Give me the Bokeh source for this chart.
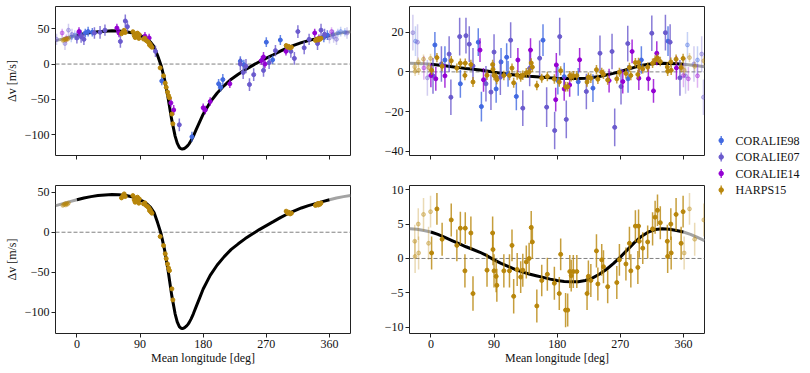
import numpy as np
from bokeh.plotting import figure
from bokeh.models import ColumnDataSource, FixedTicker, Span, Range1d, CustomLabelingPolicy
from bokeh.layouts import row, column
from bokeh.embed import file_html
from bokeh.resources import INLINE
from bokeh.core.properties import value

FONT = "Liberation Serif"

# ---------------- data ----------------
instruments = ["CORALIE98", "CORALIE07", "CORALIE14", "HARPS15"]
colors = ["#4169E1", "#6A5ACD", "#9400D3", "#B8860B"]
x_ticks = [0, 90, 180, 270, 360]
yticks_tl = [-100, -50, 0, 50]
yticks_tr = [-40, -20, 0, 20]
yticks_bl = [-100, -50, 0, 50]
yticks_br = [-10, -5, 0, 5, 10]

# Keplerian model, planet b
model_b_lon = [0, 10, 20, 30, 40, 50, 60, 70, 80, 85, 90, 95, 100, 105, 110, 115, 120, 125, 130,
               135, 140, 143, 146, 148, 150, 152, 154, 156, 158, 160, 163, 166, 170, 175, 180,
               190, 200, 210, 220, 230, 240, 250, 260, 270, 280, 290, 300, 310, 320, 330, 340, 350, 360]
model_b_dv = [40.5, 42.8, 44.5, 45.8, 46.6, 47.0, 46.8, 45.8, 44.0, 42.5, 40.5, 38.2, 35.3, 31.0,
              24.5, 12.0, -2.0, -22.0, -48.0, -78.0, -102.0, -112.0, -118.0, -119.8, -120.3, -120.0,
              -119.0, -117.5, -115.5, -113.0, -108.0, -102.0, -93.0, -82.0, -71.0, -54.0, -41.0,
              -30.5, -21.5, -14.5, -8.0, -2.2, 3.3, 8.3, 13.2, 18.2, 22.8, 26.8, 30.3, 33.2, 35.7, 38.2, 40.5]

# Keplerian model, planet c
model_c_lon = [0, 10, 20, 30, 40, 50, 60, 70, 80, 90, 100, 110, 120, 130, 140, 150, 160, 170, 180,
               190, 200, 210, 220, 230, 240, 250, 260, 270, 280, 290, 300, 310, 320, 330, 340, 350, 360]
model_c_dv = [3.85, 3.5, 3.05, 2.6, 2.15, 1.7, 1.3, 0.9, 0.4, -0.2, -0.7, -1.15, -1.6, -1.95, -2.25,
              -2.5, -2.75, -3.0, -3.2, -3.33, -3.4, -3.38, -3.2, -2.85, -2.3, -1.6, -0.75, 0.2, 1.25,
              2.3, 3.2, 3.85, 4.2, 4.32, 4.25, 4.05, 3.85]

# CORALIE98 vs mean longitude of b / of c
c98_lon_b = [5, 12, 16, 22, 121, 164, 202, 205, 208, 233, 238, 270, 279, 290, 300, 352, 357]
c98_dv_b = [42, 44, 46, 45, -24, -103, -28, -33, -22, 4, -1, 31, 6, 34, 22, 38, 41]
c98_err_b = [7, 6, 7, 6, 6, 7, 7, 6, 8, 7, 7, 7, 6, 7, 6, 7, 7]
c98_lon_c = [5.7, 20, 42, 67.5, 72, 93, 100, 108, 110, 121.8, 159.8, 181, 190, 210, 231, 281, 300, 338]
c98_dv_c = [13.6, 6, -6, 15, -17.5, -8.6, 5, 7.4, -1, -12.4, 16, -4.4, -2.4, -5, -8.2, -3.5, 6, 15.5]
c98_err_c = [6.5, 7, 7, 7, 7.5, 7, 7, 7, 6.5, 7, 8, 7, 7, 7, 7, 7, 7, 7.5]

# CORALIE07
c07_lon_b = [0, 6, 10, 25, 33, 40, 62, 69, 72, 112, 146, 233, 237, 241, 246, 252, 266, 274, 283,
             305, 310, 315, 324, 331, 343, 348, 353]
c07_dv_b = [37, 39, 35, 44, 45, 48, 32, 61, 53, 18, -86, 0, -12, -3, -29, -15, -9, 2, 19, 18, 8,
            46, 23, 35, 29, 48, 42]
c07_err_b = [8, 9, 8, 8, 9, 8, 9, 9, 8, 8, 9, 9, 9, 10, 9, 9, 9, 9, 8, 9, 9, 9, 9, 8, 9, 9, 8]
c07_lon_c = [3, 15, 26, 28.5, 41, 50, 54.7, 60, 78.5, 85.6, 90, 99, 113.7, 131, 140.8, 155, 165,
             176.4, 183.6, 193, 221.6, 241, 258.2, 262, 271, 280.6, 314.9, 334.3, 341, 355]
c07_dv_c = [-2, 4, 9, -12.8, 17.8, 18.3, 14, 3, -6, -10.2, 10, -2.7, 16, -18.3, 1.8, 6.9, -17.8,
            -29.6, 17.8, -24, -9.9, 9.4, 10.3, -28, -7.4, 14.3, 19.5, 19.8, 15, -3]
c07_err_c = [9, 9, 9, 9, 9.5, 9, 9, 9, 9, 9, 9, 9, 9, 9, 9, 9, 10, 9.5, 9.5, 9.5, 9, 9, 9, 9.5,
             9, 9, 9, 9, 9, 9]

# CORALIE14
c14_lon_b = [3, 57, 60, 97, 103, 134, 138, 180, 183, 190, 218, 263, 266, 268, 298, 339, 345]
c14_dv_b = [46, 51, 44, 39.5, 37, -55, -65, -62, -65, -53, -28, 5, 10, 0, 18, 44, 36]
c14_err_b = [6, 6, 6, 6, 6, 6, 7, 6, 6, 6, 6, 6, 7, 6, 6, 6, 6]
c14_lon_c = [0, 7, 20, 70, 75, 124, 142, 177.9, 178.8, 190, 197.8, 212, 254, 273.5, 286.8, 296.4,
             310, 317.3, 322, 350]
c14_dv_c = [-1.8, -3.5, -2, 11, -4, 6, 11, -14, 3.5, -8.6, -6.6, 6.1, -4.4, -4.9, 10.3, -3.2,
            -3.5, -9.6, 9.4, 2]
c14_err_c = [6, 6, 6, 6, 6, 6, 6, 6, 6, 6, 6, 6, 6, 6, 6, 6, 6, 6, 6, 6]

# HARPS15
hb_lon = [63.6, 65.5, 67.4, 68.9, 79.8, 81.7, 83.0, 84.5, 85.5, 86.4, 87.4, 88.3, 89.0, 95.0, 96.9,
          98.8, 100.7, 102.6, 103.5, 104.5, 105.4, 106.9, 118.7, 123.5, 125.9, 127.3, 129.2, 130.6,
          132.0, 135.4, 136.8, 298.3, 300.2, 302.0, 304.0, 305.8, 340.0, 341.5, 343.0, 344.0,
          345.0, 346.5, 348.0]
hb_dv = [42.9, 45.5, 47.9, 44.6, 45.8, 40.4, 37.5, 42.9, 38.8, 43.8, 40.4, 36.3, 41.5, 35.4, 36.7,
         33.3, 32.0, 30.4, 27.0, 27.9, 25.4, 23.8, -5.4, -16.7, -27.0, -33.0, -39.6, -44.6, -48.0,
         -70.8, -84.6, 26.3, 23.8, 25.0, 22.9, 23.8, 33.5, 34.5, 35.5, 34.0, 36.0, 35.0, 36.5]
hb_err = [1.6, 1.5, 1.8, 1.4, 1.5, 1.7, 1.6, 1.4, 1.5, 1.6, 1.8, 1.5, 1.4, 1.6, 1.5, 1.7, 1.5, 1.6,
          1.4, 1.5, 1.6, 1.5, 1.8, 1.6, 1.5, 1.7, 1.6, 1.5, 1.4, 1.6, 1.7, 1.5, 1.6, 1.4, 1.5, 1.6,
          1.5, 1.6, 1.4, 1.7, 1.5, 1.6, 1.5]
hc_lon = [1, 8.6, 16, 29, 37, 42, 48.5, 49, 57, 60, 80, 88, 88.5, 90, 93, 94, 104, 112, 115.6, 118,
          123, 128, 131, 136, 140, 143, 144.6, 151, 158, 166, 176, 183, 185, 192, 195, 198, 200, 203,
          208, 222.6, 224.5, 228, 236, 238, 243.5, 246, 252, 265, 268.7, 278, 283, 285, 291.5, 295,
          296, 297, 302, 309, 316, 319.6, 323, 327, 337, 337.5, 342, 342.5, 349.5, 356.7, 359.5]
hc_dv = [0.8, 7.2, 2.8, 5.6, 1.9, 4.4, -1.8, 4.4, 3.7, -5.1, -1.7, 3.7, 1.3, -1.8, -2.6, -3.9, -1.8,
         -1.8, 1.9, -5.5, -1.6, -2.7, -1.7, -0.5, 0.0, 4.5, 2.4, -6.9, -3.2, -2.3, -3.6, -5.1, 0.6,
         -7.5, -7.5, -1.9, -2.5, -1.9, -1.9, -5.1, -2.6, -3.2, 1.1, -3.7, -0.2, -1.2, -4.1, -3.5,
         -0.2, -0.8, 2.2, -1.8, 4.7, -1.3, 4.7, 2.5, 1.5, 2.4, 4.3, 6.0, 7.0, 5.2, 2.5, 0.3, 5.0,
         0.8, 6.4, 2.2, 6.8]
hc_err = [2.4, 2.3, 2.4, 2.4, 2.3, 2.4, 2.4, 2.3, 2.4, 2.5, 2.4, 2.4, 2.3, 2.4, 2.3, 2.4, 2.4, 2.4,
          2.3, 2.5, 2.4, 2.3, 2.4, 2.4, 2.3, 2.4, 2.4, 2.4, 2.3, 2.4, 2.4, 2.4, 2.3, 2.5, 2.4, 2.4,
          2.3, 2.4, 2.4, 2.4, 2.3, 2.4, 2.4, 2.4, 2.3, 2.4, 2.4, 2.4, 2.3, 2.4, 2.4, 2.4, 2.3, 2.4,
          2.4, 2.4, 2.3, 2.4, 2.4, 2.4, 2.3, 2.4, 2.4, 2.4, 2.3, 2.4, 2.4, 2.4, 2.3]

WRAP = 30.0   # points within 30 deg of an edge are repeated (faded) on the other side

NO_LABELS = CustomLabelingPolicy(code="""
for (const i of Array.from(indices)) { indices.unset(i) }
return indices
""")


# ---------------- helpers ----------------
def make_fig(frame_h, yr, yticks, b_left, b_right, b_top, b_bottom, xlabels, ylabel):
    p = figure(frame_width=295, frame_height=frame_h,
               x_range=Range1d(-30.5, 390.0), y_range=Range1d(*yr),
               toolbar_location=None, output_backend="svg",
               min_border_left=b_left, min_border_right=b_right,
               min_border_top=b_top, min_border_bottom=b_bottom)
    p.xgrid.visible = False
    p.ygrid.visible = False
    p.outline_line_color = "#222222"
    p.outline_line_width = 1
    p.background_fill_color = "white"
    p.border_fill_color = "white"
    p.xaxis.ticker = FixedTicker(ticks=x_ticks)
    p.yaxis.ticker = FixedTicker(ticks=yticks)
    p.yaxis.major_label_overrides = {t: ("\u2212" + str(abs(t)) if t < 0 else str(t)) for t in yticks}
    for ax in p.axis:
        ax.axis_line_color = None
        ax.major_tick_out = 4
        ax.major_tick_in = 0
        ax.minor_tick_out = 0
        ax.minor_tick_in = 0
        ax.major_tick_line_color = "#222222"
        ax.major_label_text_font = FONT
        ax.major_label_text_font_size = "12px"
        ax.major_label_text_color = "#111111"
        ax.axis_label_text_font = FONT
        ax.axis_label_text_font_size = "12px"
        ax.axis_label_text_font_style = "normal"
        ax.axis_label_text_color = "#111111"
    p.yaxis.major_label_standoff = 2
    p.yaxis.axis_label_standoff = 3
    p.xaxis.major_label_standoff = 2
    p.xaxis.axis_label_standoff = 0
    if xlabels:
        p.xaxis.axis_label = "Mean longitude [deg]"
    else:
        p.xaxis.major_label_policy = NO_LABELS
    if ylabel:
        p.yaxis.axis_label = "\u0394v [m/s]"
    zero = Span(location=0, dimension="width", line_color="#808080", line_width=1,
                line_dash="4 2", level="underlay")
    p.add_layout(zero)
    return p


def draw_model(p, lon, dv):
    lon = np.asarray(lon, float)
    dv = np.asarray(dv, float)
    hi = lon >= 360 - WRAP
    lo = lon <= WRAP
    p.line(lon[hi] - 360, dv[hi], line_color="#a3a3a3", line_width=3)
    p.line(lon[lo] + 360, dv[lo], line_color="#a3a3a3", line_width=3)
    p.line(lon, dv, line_color="black", line_width=3)


def draw_points(p, lon, dv, err, color):
    lon = np.asarray(lon, float)
    dv = np.asarray(dv, float)
    err = np.asarray(err, float)
    hi = lon >= 360 - WRAP
    lo = lon <= WRAP
    wx = np.concatenate([lon[hi] - 360, lon[lo] + 360])
    wy = np.concatenate([dv[hi], dv[lo]])
    we = np.concatenate([err[hi], err[lo]])
    sw = ColumnDataSource(dict(x=wx, y=wy, lo=wy - we, up=wy + we))
    p.segment(x0="x", y0="lo", x1="x", y1="up", source=sw, line_color=color,
              line_alpha=0.3, line_width=1.5)
    p.scatter("x", "y", source=sw, size=4, fill_color=color, line_color=color,
              fill_alpha=0.35, line_alpha=0.35)
    sm = ColumnDataSource(dict(x=lon, y=dv, lo=dv - err, up=dv + err))
    p.segment(x0="x", y0="lo", x1="x", y1="up", source=sm, line_color=color,
              line_alpha=0.8, line_width=1.5)
    p.scatter("x", "y", source=sm, size=4, fill_color=color, line_color=color)


# ---------------- panels ----------------
p_tl = make_fig(149, (-129.5, 81.5), yticks_tl, 55, 10, 6, 22, False, True)
draw_model(p_tl, model_b_lon, model_b_dv)
draw_points(p_tl, c98_lon_b, c98_dv_b, c98_err_b, colors[0])
draw_points(p_tl, c07_lon_b, c07_dv_b, c07_err_b, colors[1])
draw_points(p_tl, c14_lon_b, c14_dv_b, c14_err_b, colors[2])
draw_points(p_tl, hb_lon, hb_dv, hb_err, colors[3])

p_tr = make_fig(149, (-42.2, 33.0), yticks_tr, 49, 4, 6, 22, False, False)
draw_model(p_tr, model_c_lon, model_c_dv)
draw_points(p_tr, c98_lon_c, c98_dv_c, c98_err_c, colors[0])
draw_points(p_tr, c07_lon_c, c07_dv_c, c07_err_c, colors[1])
draw_points(p_tr, c14_lon_c, c14_dv_c, c14_err_c, colors[2])
draw_points(p_tr, hc_lon, hc_dv, hc_err, colors[3])

p_bl = make_fig(148, (-126.6, 58.4), yticks_bl, 55, 10, 8, 40, True, True)
draw_model(p_bl, model_b_lon, model_b_dv)
draw_points(p_bl, hb_lon, hb_dv, hb_err, colors[3])

p_br = make_fig(148, (-10.9, 10.6), yticks_br, 49, 4, 8, 40, True, False)
draw_model(p_br, model_c_lon, model_c_dv)
draw_points(p_br, hc_lon, hc_dv, hc_err, colors[3])

# ---------------- legend panel ----------------
LW, LH = 102, 373
p_leg = figure(width=LW, height=LH, x_range=Range1d(0, LW), y_range=Range1d(LH, 0),
               toolbar_location=None, output_backend="svg",
               x_axis_location=None, y_axis_location=None, min_border=0)
p_leg.outline_line_color = None
p_leg.grid.visible = False
row_y = [140 + 16.5 * i for i in range(len(instruments))]
sym_x = [12.7] * len(instruments)
leg_src = ColumnDataSource(dict(x=sym_x, y=row_y, lo=[y - 4.5 for y in row_y],
                                up=[y + 4.5 for y in row_y], color=colors,
                                tx=[27] * len(instruments), label=instruments))
p_leg.segment(x0="x", y0="lo", x1="x", y1="up", source=leg_src, line_color="color",
              line_width=1.5, line_alpha=0.85)
p_leg.scatter("x", "y", source=leg_src, size=4.5, fill_color="color", line_color="color")
p_leg.text(x="tx", y="y", text="label", source=leg_src, text_font=value(FONT),
           text_font_size="12px", text_baseline="middle", text_align="left",
           text_color="#111111")

layout = row(column(row(p_tl, p_tr), row(p_bl, p_br)), p_leg)

open("out.html", "w").write(file_html(layout, INLINE))
